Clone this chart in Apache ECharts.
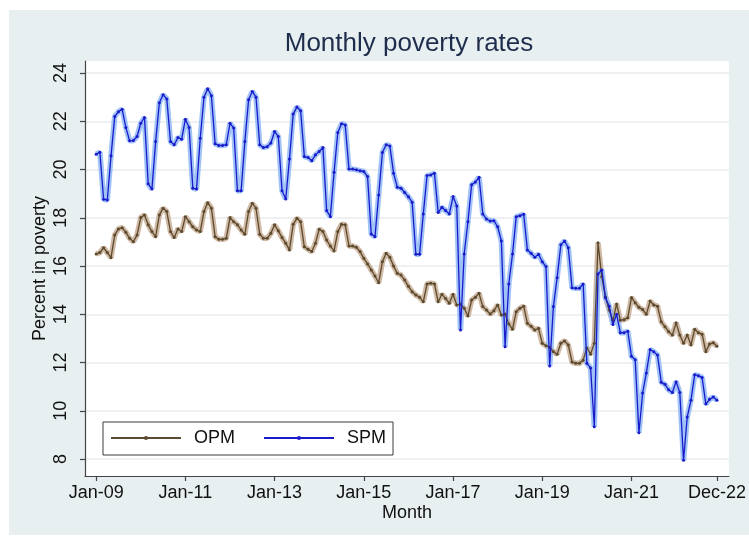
<!DOCTYPE html>
<html>
<head>
<meta charset="utf-8">
<script src="https://cdn.jsdelivr.net/npm/echarts@6/dist/echarts.min.js"></script>
<style>
html,body{margin:0;padding:0;background:#fff;}
#bg{position:absolute;left:9px;top:10px;width:740px;height:525px;background:#e8eff1;}
#chart{position:absolute;left:0;top:0;width:749px;height:541px;}
</style>
</head>
<body>
<div id="bg"></div>
<div id="chart"></div>
<script>
// Month index 0 = Jan-09 ... 167 = Dec-22
const xTickPos = [0, 24, 48, 72, 96, 120, 144, 167];
const xTickLabels = ['Jan-09', 'Jan-11', 'Jan-13', 'Jan-15', 'Jan-17', 'Jan-19', 'Jan-21', 'Dec-22'];
const yTicks = [8, 10, 12, 14, 16, 18, 20, 22, 24];

const opm = [
  16.5, 16.56, 16.76, 16.56, 16.35, 17.29, 17.54, 17.59, 17.4, 17.15, 17.01, 17.29,
  18.01, 18.12, 17.71, 17.43, 17.22, 18.12, 18.4, 18.26, 17.43, 17.18, 17.54, 17.43,
  18.05, 17.84, 17.63, 17.5, 17.43, 18.26, 18.63, 18.4, 17.22, 17.11, 17.11, 17.15,
  18.01, 17.84, 17.71, 17.5, 17.32, 18.26, 18.6, 18.4, 17.32, 17.15, 17.15, 17.36,
  17.71, 17.46, 17.18, 16.95, 16.67, 17.73, 17.98, 17.84, 16.8, 16.7, 16.6, 16.95,
  17.53, 17.43, 17.08, 16.83, 16.63, 17.43, 17.73, 17.71, 16.83, 16.83, 16.78, 16.6,
  16.32, 16.09, 15.84, 15.59, 15.31, 16.18, 16.53, 16.37, 16.0, 15.7, 15.63, 15.42,
  15.16, 14.94, 14.8, 14.71, 14.52, 15.26, 15.29, 15.26, 14.52, 14.83, 14.66, 14.46,
  14.83, 14.39, 14.42, 14.25, 13.93, 14.59, 14.71, 14.87, 14.32, 14.18, 14.01, 14.15,
  14.39, 13.97, 14.01, 13.6, 13.38, 14.11, 14.25, 14.34, 13.63, 13.51, 13.35, 13.42,
  12.8, 12.7, 12.63, 12.45, 12.35, 12.8, 12.9, 12.73, 12.03, 11.97, 11.97, 12.1,
  12.61, 12.35, 12.8, 16.97, 15.56, 14.73, 14.18, 13.74, 14.43, 13.76, 13.78, 13.86,
  14.7, 14.48, 14.29, 14.2, 14.0, 14.55, 14.39, 14.34, 13.69, 13.49, 13.28, 13.14,
  13.65, 13.14, 12.8, 13.14, 12.73, 13.38, 13.24, 13.18, 12.45, 12.77, 12.82, 12.68
];

const spm = [
  20.64, 20.72, 18.77, 18.74, 20.57, 22.2, 22.4, 22.5, 21.74, 21.19, 21.2, 21.37,
  21.92, 22.16, 19.41, 19.19, 21.16, 22.77, 23.1, 22.93, 21.16, 21.03, 21.33, 21.26,
  22.09, 21.74, 19.23, 19.19, 21.3, 23.0, 23.35, 23.06, 21.07, 21.0, 21.0, 21.03,
  21.92, 21.72, 19.12, 19.12, 21.16, 22.89, 23.24, 23.0, 21.03, 20.91, 20.95, 21.1,
  21.58, 21.37, 19.12, 18.78, 20.44, 22.3, 22.59, 22.44, 20.54, 20.5, 20.37, 20.61,
  20.75, 20.91, 18.3, 18.05, 19.89, 21.54, 21.9, 21.85, 20.02, 20.02, 19.99, 19.95,
  19.92, 19.71, 17.33, 17.22, 18.95, 20.71, 21.03, 20.98, 19.85, 19.27, 19.23, 19.05,
  18.87, 18.65, 16.49, 16.49, 18.16, 19.75, 19.78, 19.85, 18.22, 18.44, 18.3, 18.16,
  18.88, 18.49, 13.35, 16.5, 17.84, 19.37, 19.48, 19.68, 18.16, 17.95, 17.87, 17.88,
  17.63, 17.04, 12.66, 15.26, 16.5, 18.05, 18.09, 18.15, 16.67, 16.53, 16.37, 16.49,
  16.18, 15.98, 11.86, 14.32, 15.52, 16.88, 17.04, 16.76, 15.1, 15.08, 15.08, 15.26,
  11.97, 11.78, 9.34, 15.67, 15.84, 14.69, 14.34, 13.58, 14.0, 13.24, 13.24, 13.3,
  12.26, 12.12, 9.09, 10.74, 11.57, 12.54, 12.45, 12.31, 11.19, 11.1, 10.87, 10.76,
  11.21, 10.76, 7.95, 9.75, 10.44, 11.5, 11.46, 11.38, 10.28, 10.48, 10.57, 10.44
];

const FONT = "'Liberation Sans', Arial, sans-serif";
const toXY = arr => arr.map((v, i) => [i, v]);

const opmColor = '#5b4a2d', opmBand = '#c8ad95';
const spmColor = '#1a1acb', spmBand = '#8fb9f6';

const chart = echarts.init(document.getElementById('chart'), null, {renderer: 'canvas'});
chart.setOption({
  backgroundColor: 'transparent',
  animation: false,
  title: {
    text: 'Monthly poverty rates',
    left: 404, top: 26, textAlign: 'center',
    textStyle: {fontFamily: FONT, fontSize: 26, fontWeight: 'normal', color: '#1f2d4d'}
  },
  grid: {
    left: 85, top: 61, width: 646, height: 415,
    show: true, backgroundColor: '#fff', borderWidth: 0, containLabel: false
  },
  legend: {
    data: ['OPM', 'SPM'],
    left: 103, top: 422, orient: 'horizontal',
    itemWidth: 70, itemHeight: 5, itemGap: 28,
    padding: [7, 7, 8, 7],
    borderColor: '#3a3a3a', borderWidth: 1, backgroundColor: '#fff',
    selectedMode: false,
    textStyle: {fontFamily: FONT, fontSize: 18, color: '#111', padding: [0, 0, 0, 8]}
  },
  xAxis: {
    type: 'value', min: -3, max: 170.2,
    name: 'Month', nameLocation: 'middle', nameGap: 28, nameMoveOverlap: false,
    nameTextStyle: {fontFamily: FONT, fontSize: 18, color: '#111'},
    axisLine: {show: true, onZero: false, lineStyle: {color: '#444', width: 1.2}},
    axisTick: {show: true, length: 5, customValues: xTickPos, lineStyle: {color: '#444', width: 1.2}},
    axisLabel: {
      customValues: xTickPos, margin: 8,
      fontFamily: FONT, fontSize: 18, color: '#111',
      formatter: v => xTickLabels[xTickPos.indexOf(Math.round(v))] || ''
    },
    splitLine: {show: false}
  },
  yAxis: {
    type: 'value', min: 7.3, max: 24.5,
    name: 'Percent in poverty', nameLocation: 'middle', nameGap: 36, nameRotate: 90,
    nameMoveOverlap: false,
    nameTextStyle: {fontFamily: FONT, fontSize: 18, color: '#111'},
    axisLine: {show: true, onZero: false, lineStyle: {color: '#444', width: 1.2}},
    axisTick: {show: true, length: 5, customValues: yTicks, lineStyle: {color: '#444', width: 1.2}},
    axisLabel: {
      customValues: yTicks, rotate: 90, margin: 15,
      fontFamily: FONT, fontSize: 18, color: '#111'
    },
    splitLine: {show: true, lineStyle: {color: '#e8ebee', width: 1.5}}
  },
  series: [
    {name: 'OPM band', type: 'line', data: toXY(opm), symbol: 'none', silent: true,
     lineStyle: {color: opmBand, width: 5.5, opacity: 0.85}, z: 1},
    {name: 'SPM band', type: 'line', data: toXY(spm), symbol: 'none', silent: true,
     lineStyle: {color: spmBand, width: 5.5, opacity: 0.85}, z: 1},
    {name: 'OPM', type: 'line', data: toXY(opm), symbol: 'circle', symbolSize: 3,
     itemStyle: {color: opmColor}, lineStyle: {color: opmColor, width: 1.3}, z: 3},
    {name: 'SPM', type: 'line', data: toXY(spm), symbol: 'circle', symbolSize: 3,
     itemStyle: {color: spmColor}, lineStyle: {color: spmColor, width: 1.3}, z: 4}
  ]
});
</script>
</body>
</html>
